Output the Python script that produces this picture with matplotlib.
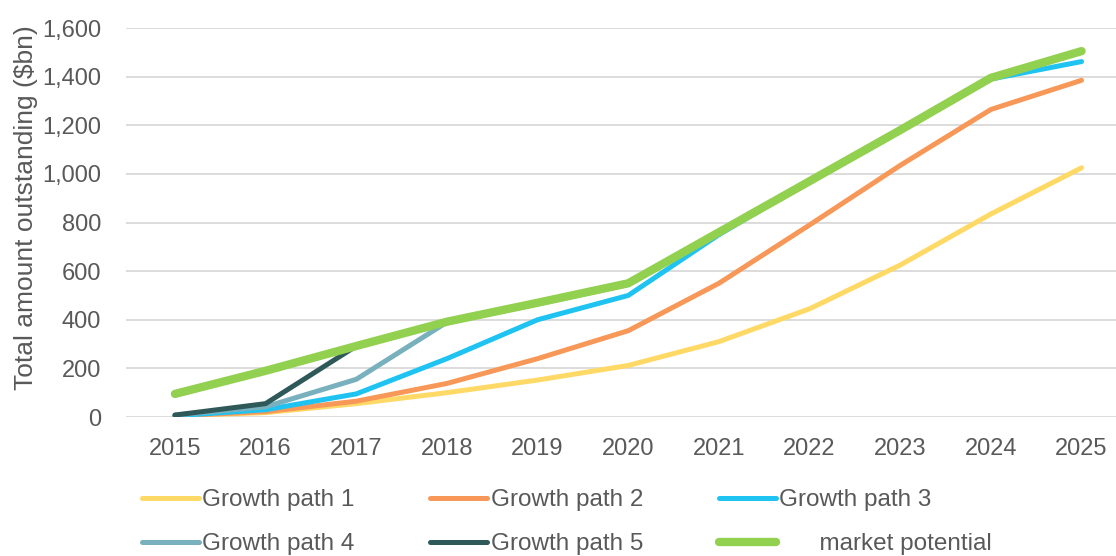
import matplotlib.pyplot as plt
from matplotlib.ticker import FuncFormatter

plt.rcParams["font.family"] = ["Liberation Sans", "DejaVu Sans"]

years = list(range(2015, 2026))
growth_path_1 = [5, 18, 55, 100, 152, 212, 310, 445, 625, 835, 1025]
growth_path_2 = [5, 22, 65, 138, 240, 355, 550, 790, 1035, 1265, 1385]
growth_path_3 = [5, 30, 95, 240, 400, 500, 750, 970, 1180, 1390, 1462]
growth_path_4 = [8, 42, 155, 390, 465, 545, 760, 970, 1180, 1395, 1505]
growth_path_5 = [8, 55, 292, 392, 470, 550, 760, 970, 1180, 1395, 1505]
market_potential = [95, 190, 292, 392, 470, 550, 760, 970, 1180, 1395, 1505]

series = [
    ("Growth path 1", growth_path_1, "#ffd966", 3.6),
    ("Growth path 2", growth_path_2, "#f79859", 3.6),
    ("Growth path 3", growth_path_3, "#1fc3f2", 3.6),
    ("Growth path 4", growth_path_4, "#78b0be", 3.6),
    ("Growth path 5", growth_path_5, "#2f5858", 3.6),
    ("      market potential", market_potential, "#92d04f", 6.0),
]

text_col = "#595959"

fig = plt.figure(figsize=(11.16, 5.56), dpi=100)
ax = fig.add_axes([0.1129, 0.25, 0.8871, 0.6996])

lines = []
for label, vals, col, lw in series:
    ln, = ax.plot(years, vals, color=col, lw=lw, label=label,
                  solid_capstyle="round", solid_joinstyle="round")
    lines.append(ln)

ax.set_xlim(2014.46, 2025.38)
ax.set_ylim(0, 1600)
ax.set_yticks(range(0, 1601, 200))
ax.set_xticks(years)
ax.yaxis.set_major_formatter(FuncFormatter(lambda v, p: f"{int(v):,}"))
ax.grid(axis="y", color="#d9d9d9", lw=1.3)
ax.set_axisbelow(True)
for s in ax.spines.values():
    s.set_visible(False)
ax.tick_params(length=0, labelsize=17, colors=text_col)
ax.tick_params(axis="x", pad=15)
ax.tick_params(axis="y", pad=18)
ax.set_ylabel("Total amount outstanding (\\$bn)", fontsize=19, color=text_col)
ax.yaxis.set_label_coords(-0.089, 0.537)

# legend filled row by row: 1 2 3 / 4 5 market
order = [0, 3, 1, 4, 2, 5]
leg = fig.legend([lines[i] for i in order], [series[i][0] for i in order],
                 loc="upper left", bbox_to_anchor=(0.127, 0.12), ncol=3,
                 frameon=False, fontsize=17.5, handlelength=2.35,
                 handletextpad=0.15, columnspacing=3.1, labelspacing=0.9,
                 borderpad=0, borderaxespad=0)
for t in leg.get_texts():
    t.set_color(text_col)

fig.savefig("out.png", dpi=100)
